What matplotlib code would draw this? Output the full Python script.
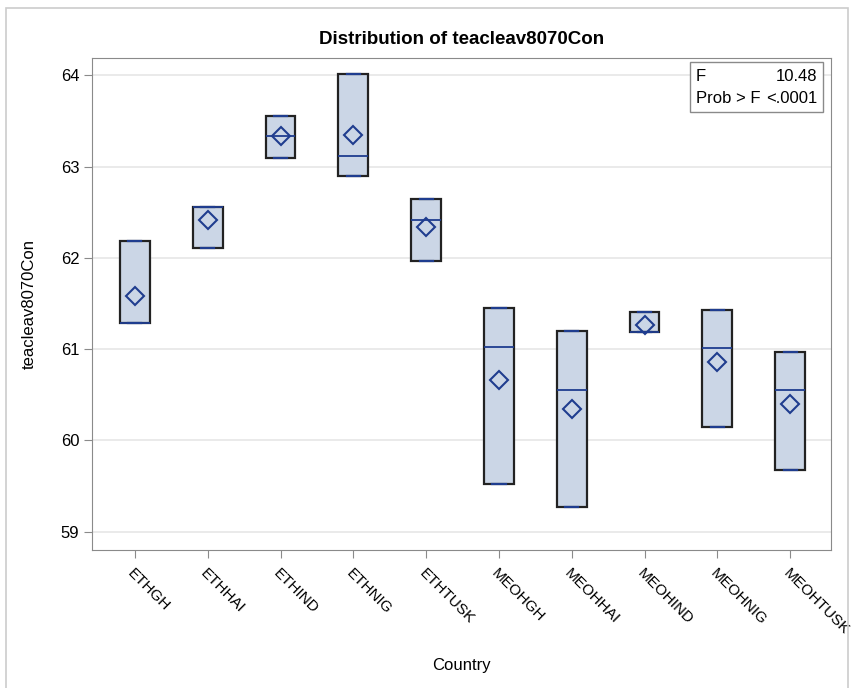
import matplotlib.pyplot as plt
from matplotlib.patches import Rectangle

plt.rcParams['font.family'] = ['Liberation Sans', 'DejaVu Sans']

# valores
paises = ['ETHGH', 'ETHHAI', 'ETHIND', 'ETHNIG', 'ETHTUSK',
          'MEOHGH', 'MEOHHAI', 'MEOHIND', 'MEOHNIG', 'MEOHTUSK']
minimos = [61.29, 62.11, 63.09, 62.90, 61.97, 59.52, 59.27, 61.19, 60.15, 59.68]
maximos = [62.19, 62.56, 63.55, 64.02, 62.65, 61.45, 61.20, 61.41, 61.43, 60.97]
medianas = [61.29, 62.56, 63.33, 63.12, 62.42, 61.02, 60.55, 61.19, 61.01, 60.55]
medias = [61.58, 62.41, 63.33, 63.35, 62.34, 60.66, 60.34, 61.27, 60.86, 60.40]

f_valor = '10.48'
prob_f = '<.0001'

azul = '#1f3d8f'
relleno = '#cbd6e6'

fig = plt.figure(figsize=(8.54, 6.88), dpi=100)
ax = fig.add_axes([0.1077, 0.2006, 0.8653, 0.7151])

stats = []
for i in range(len(paises)):
    stats.append({'whislo': minimos[i], 'q1': minimos[i], 'med': medianas[i],
                  'q3': maximos[i], 'whishi': maximos[i], 'mean': medias[i],
                  'fliers': []})

ax.bxp(stats, positions=range(len(paises)), widths=0.41, showmeans=True,
       patch_artist=True, capwidths=0.18,
       boxprops=dict(facecolor=relleno, edgecolor='#222222', linewidth=1.6),
       medianprops=dict(color=azul, linewidth=1.3),
       capprops=dict(color=azul, linewidth=1.6),
       whiskerprops=dict(color=azul, linewidth=0),
       meanprops=dict(marker='D', markerfacecolor='none', markeredgecolor=azul,
                      markersize=9, markeredgewidth=1.5))

ax.set_xlim(-0.59, 9.56)
ax.set_ylim(58.80, 64.19)
ax.set_yticks([59, 60, 61, 62, 63, 64])
ax.yaxis.grid(True, color='#e6e6e6', linewidth=1.2)
ax.set_axisbelow(True)
for s in ax.spines.values():
    s.set_color('#8a8a8a')
ax.tick_params(axis='both', colors='#8a8a8a', length=5.5, labelcolor='black', labelsize=12)
ax.tick_params(axis='x', pad=6, labelsize=11)

ax.set_xticks(range(len(paises)))
ax.set_xticklabels(paises, rotation=-45, ha='left', va='top', rotation_mode='anchor')

ax.set_title('Distribution of teacleav8070Con', fontsize=13.5, fontweight='bold', pad=10)
ax.set_ylabel('teacleav8070Con', fontsize=12)
ax.yaxis.set_label_coords(-0.075, 0.5)
ax.set_xlabel('Country', fontsize=12, va='center')
ax.xaxis.set_label_coords(0.5, -0.234)

# recuadro con el estadistico F
ax.add_patch(Rectangle((0.809, 0.890), 0.18, 0.102, transform=ax.transAxes,
                       facecolor='white', edgecolor='#8a8a8a', linewidth=1, zorder=5))
ax.text(0.817, 0.963, 'F', transform=ax.transAxes, fontsize=12, va='center', zorder=6)
ax.text(0.982, 0.963, f_valor, transform=ax.transAxes, fontsize=12, va='center', ha='right', zorder=6)
ax.text(0.817, 0.917, 'Prob > F', transform=ax.transAxes, fontsize=12, va='center', zorder=6)
ax.text(0.982, 0.917, prob_f, transform=ax.transAxes, fontsize=12, va='center', ha='right', zorder=6)

# borde exterior de la imagen
fig.patches.append(Rectangle((6 / 854, -0.01), 842 / 854, 1 - 8 / 688 + 0.01,
                             transform=fig.transFigure, fill=False,
                             edgecolor='#cccccc', linewidth=1.2))

plt.savefig('out.png', dpi=100)
